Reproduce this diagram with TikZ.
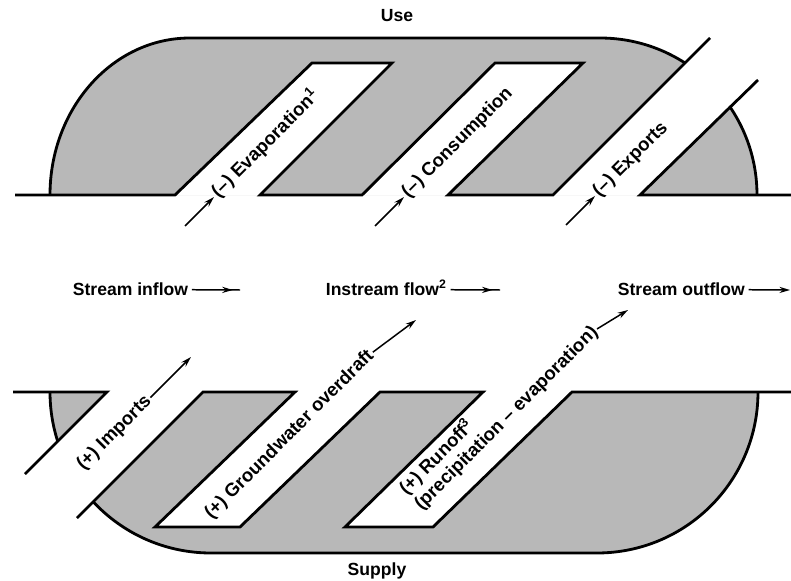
\documentclass[tikz,border=0pt]{standalone}
\usepackage{fontspec}
\setmainfont{Liberation Sans}
\usetikzlibrary{arrows.meta,decorations.markings}
\begin{document}
\begin{tikzpicture}[x=0.02cm,y=-0.02cm,font=\bfseries,
  rim/.style={line width=1.6pt},
  stipple/.style={fill=black!28},
  flattext/.style={anchor=base west,inner sep=2pt,text height=6pt,text depth=0pt},
  slanttext/.style={rotate=45,anchor=west,inner sep=1pt,text height=7pt,text depth=2pt,
    font=\fontsize{10.6}{12}\selectfont\bfseries},
  feed/.style={line width=0.85pt,-{Stealth[length=6pt,width=3.5pt]}},
  flow/.style={line width=0.85pt,postaction={decorate},
    decoration={markings,mark=at position 0.85 with {\arrow{Stealth[length=6pt,width=3.5pt]}}}}]
\useasboundingbox (0,0) rectangle (791,581);

\fill[stipple] (50,195) arc[start angle=180,end angle=270,x radius=140,y radius=157]
  -- (600,38) arc[start angle=270,end angle=360,radius=157] -- cycle;
\draw[rim] (50,195) arc[start angle=180,end angle=270,x radius=140,y radius=157]
  -- (600,38) arc[start angle=270,end angle=360,radius=157];
\fill[white] (175,195) -- (312,63) -- (392,63) -- (260,195) -- cycle;
\fill[white] (362,195) -- (495,63) -- (583,63) -- (448,195) -- cycle;
\fill[white] (553,195) -- (698,50) -- (785,50) -- (640,195) -- cycle;
\draw[rim] (15,195) -- (175,195) -- (312,63) -- (392,63) -- (260,195) -- (362,195)
  -- (495,63) -- (583,63) -- (448,195) -- (553,195) -- (710,38);
\draw[rim] (758,80) -- (640,195) -- (791,195);

\fill[stipple] (50,392) arc[start angle=180,end angle=90,radius=161]
  -- (597,553) arc[start angle=90,end angle=0,radius=161] -- cycle;
\draw[rim] (50,392) arc[start angle=180,end angle=90,radius=161]
  -- (597,553) arc[start angle=90,end angle=0,radius=161];
\fill[white] (107,392) -- (203,392) -- (60,535) -- (0,535) -- (0,499) -- cycle;
\fill[white] (295,392) -- (380,392) -- (240,527) -- (155,527) -- cycle;
\fill[white] (483,392) -- (572,392) -- (433,527) -- (345,527) -- cycle;
\draw[rim] (13,392) -- (107,392) -- (25,474);
\draw[rim] (77,518) -- (203,392) -- (295,392) -- (155,527) -- (240,527) -- (380,392)
  -- (483,392) -- (345,527) -- (433,527) -- (572,392) -- (791,392);

\node (use) at (397,16) {Use};
\node (supply) at (377,571) {Supply};

\node (evap) at (214,197) [slanttext] {(--) Evaporation\textsuperscript{1}};
\node (cons) at (404,197) [slanttext] {(--) Consumption};
\node (expo) at (595,196) [slanttext] {(--) Exports};
\coordinate (evapin) at (185,226);
\coordinate (consin) at (375,226);
\coordinate (expoin) at (566,225);
\draw[feed] (evapin) to (evap.west);
\draw[feed] (consin) to (cons.west);
\draw[feed] (expoin) to (expo.west);

\node (inflow) at (69,295) [flattext] {Stream inflow};
\node (instream) at (322,295) [flattext] {Instream flow\textsuperscript{2}};
\node (outflow) at (614,295) [flattext] {Stream outflow};
\coordinate (inflowto) at (240,290);
\coordinate (instreamto) at (500,290);
\coordinate (outflowto) at (790,290);
\draw[flow] (inflow.east) to (inflowto);
\draw[flow] (instream.east) to (instreamto);
\draw[feed] (outflow.east) to (outflowto);

\node (imports) at (79,469) [slanttext] {(+) Imports};
\node (ground) at (207,518) [slanttext] {(+) Groundwater overdraft};
\node (runoff) at (402,494) [slanttext] {(+) Runoff\textsuperscript{3}};
\node (precip) at (417,509) [slanttext] {(precipitation -- evaporation)};
\coordinate (importsto) at (191,357);
\coordinate (groundto) at (416,320);
\coordinate (precipto) at (628,310);
\draw[feed] (imports.east) to (importsto);
\draw[feed] (ground.east) to (groundto);
\draw[feed] (precip.east) to (precipto);
\end{tikzpicture}
\end{document}
